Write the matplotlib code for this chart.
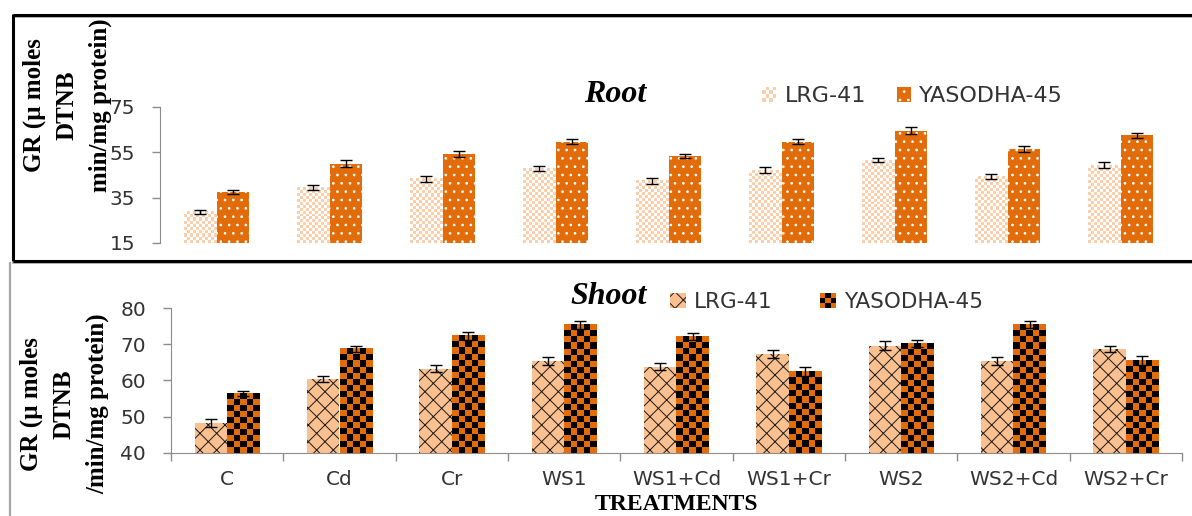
import numpy as np
import matplotlib
matplotlib.use('Agg')
import matplotlib.pyplot as plt
from matplotlib.colors import ListedColormap
from matplotlib.lines import Line2D
from matplotlib.patches import Rectangle
from matplotlib.legend_handler import HandlerBase

# GR activity (µ moles DTNB /min/mg protein) for two varieties
treatments = ['C', 'Cd', 'Cr', 'WS1', 'WS1+Cd', 'WS1+Cr', 'WS2', 'WS2+Cd', 'WS2+Cr']
varieties = ['LRG-41', 'YASODHA-45']

root_lrg = [28.7, 39.6, 43.3, 47.8, 42.5, 47.2, 51.6, 44.3, 49.3]
root_lrg_err = [1.0, 1.2, 1.3, 1.2, 1.3, 1.2, 1.0, 1.2, 1.3]
root_yas = [37.6, 49.9, 54.4, 59.7, 53.4, 59.7, 64.6, 56.5, 62.5]
root_yas_err = [1.0, 1.5, 1.3, 1.0, 1.0, 1.2, 1.6, 1.3, 1.0]

shoot_lrg = [48.3, 60.4, 63.3, 65.5, 63.8, 67.3, 69.6, 65.5, 68.7]
shoot_lrg_err = [1.0, 0.9, 1.0, 1.1, 1.0, 1.0, 1.2, 1.1, 0.8]
shoot_yas = [56.3, 68.7, 72.4, 75.4, 72.1, 62.5, 70.2, 75.4, 65.5]
shoot_yas_err = [0.7, 0.9, 1.1, 1.1, 1.0, 1.2, 0.9, 1.0, 1.2]

W, H = 1192, 516
ORANGE = '#e36c0a'
PEACH = '#fbcfac'
LIGHT_ORANGE = '#fac090'
AXIS_GREY = '#8c8c8c'
TEXT = '#333333'

plt.rcParams['font.family'] = ['DejaVu Sans']
plt.rcParams['hatch.linewidth'] = 0.7

fig = plt.figure(figsize=(W / 100, H / 100), dpi=100)


def fx(px):
    return px / W


def fy(py):
    return 1 - py / H


class CheckerHandler(HandlerBase):
    """legend key drawn as a small checkerboard"""
    def __init__(self, colors, n):
        super().__init__()
        self.colors = colors
        self.n = n

    def create_artists(self, legend, orig_handle, xdescent, ydescent,
                       width, height, fontsize, trans):
        arts = []
        cw, ch = width / self.n, height / self.n
        for i in range(self.n):
            for j in range(self.n):
                arts.append(Rectangle((-xdescent + i * cw, -ydescent + j * ch), cw, ch,
                                      facecolor=self.colors[(i + j) % 2],
                                      edgecolor='none', transform=trans))
        return arts


def checker_fill(ax, bars, cell, colors):
    """fill each bar with a checkerboard image of roughly `cell` pixel squares"""
    cmap = ListedColormap(colors)
    y0 = ax.get_ylim()[0]
    for b in bars:
        x0, x1 = b.get_x(), b.get_x() + b.get_width()
        y1 = b.get_height()
        (p0x, p0y), (p1x, p1y) = ax.transData.transform([(x0, y0), (x1, y1)])
        nx = max(1, round((p1x - p0x) / cell))
        ny = max(1, round((p1y - p0y) / cell))
        grid = np.indices((ny, nx)).sum(axis=0) % 2
        ax.imshow(grid, extent=(x0, x1, y0, y1), origin='lower', cmap=cmap,
                  vmin=0, vmax=1, interpolation='nearest', aspect='auto', zorder=2.2)


def style_y(ax, ylim, yticks):
    ax.set_xlim(-0.5, len(treatments) - 0.5)
    ax.set_ylim(*ylim)
    ax.set_yticks(yticks)
    ax.set_facecolor('none')
    for s in ['top', 'right']:
        ax.spines[s].set_visible(False)
    ax.spines['left'].set_color(AXIS_GREY)
    ax.tick_params(axis='y', colors=AXIS_GREY, labelcolor=TEXT, labelsize=14.5,
                   length=6, width=1, pad=12)


x = np.arange(len(treatments))
bw = 0.29

# ---------------- Root ----------------
ax1 = fig.add_axes([fx(160), fy(243), fx(1177) - fx(160), fy(107) - fy(243)])
style_y(ax1, (15, 75), [15, 35, 55, 75])
ax1.spines['bottom'].set_visible(False)
ax1.set_xticks([])

b_root_lrg = ax1.bar(x - bw / 2, root_lrg, bw, color=PEACH, linewidth=0, zorder=2)
b_root_yas = ax1.bar(x + bw / 2, root_yas, bw, color=ORANGE, edgecolor='white',
                     hatch='..', linewidth=0, zorder=2)
checker_fill(ax1, b_root_lrg, 3, [PEACH, '#ffffff'])
ax1.errorbar(x - bw / 2, root_lrg, yerr=root_lrg_err, fmt='none', ecolor='black',
             elinewidth=1, capsize=4, capthick=1, zorder=4)
ax1.errorbar(x + bw / 2, root_yas, yerr=root_yas_err, fmt='none', ecolor='black',
             elinewidth=1, capsize=4, capthick=1, zorder=4)
ax1.set_xlim(-0.5, len(treatments) - 0.5)
ax1.set_ylim(15, 75)

leg1 = ax1.legend([b_root_lrg, b_root_yas], varieties, loc='center left',
                  bbox_to_anchor=(fx(762), fy(96)), bbox_transform=fig.transFigure,
                  ncol=2, frameon=False, fontsize=16, borderpad=0, borderaxespad=0,
                  handlelength=0.65, handleheight=0.65, handletextpad=0.36,
                  columnspacing=1.4, labelcolor=TEXT,
                  handler_map={b_root_lrg: CheckerHandler([PEACH, '#ffffff'], 4)})

fig.text(fx(615), fy(95), 'Root', family='Liberation Serif', weight='bold',
         style='italic', fontsize=23, ha='center', va='center')
fig.text(fx(67), fy(105), 'GR (µ moles\nDTNB\nmin/mg protein)', rotation=90,
         family='Liberation Serif', weight='bold', fontsize=18, ha='center',
         va='center', multialignment='center', linespacing=1.55)

# ---------------- Shoot ----------------
ax2 = fig.add_axes([fx(171), fy(453), fx(1182) - fx(171), fy(308) - fy(453)])
style_y(ax2, (40, 80), [40, 50, 60, 70, 80])
ax2.spines['bottom'].set_color(AXIS_GREY)
ax2.set_xticks(x)
ax2.set_xticklabels(treatments)
ax2.set_xticks(np.arange(len(treatments) + 1) - 0.5, minor=True)
ax2.tick_params(axis='x', which='major', length=0, labelsize=14.5, labelcolor=TEXT, pad=12.5)
ax2.tick_params(axis='x', which='minor', length=6, width=1, colors=AXIS_GREY)

b_shoot_lrg = ax2.bar(x - bw / 2, shoot_lrg, bw, color=LIGHT_ORANGE, edgecolor='#1a1a1a',
                      hatch='xx', linewidth=0, zorder=2)
b_shoot_yas = ax2.bar(x + bw / 2, shoot_yas, bw, color=ORANGE, linewidth=0, zorder=2)
checker_fill(ax2, b_shoot_yas, 6.2, [ORANGE, '#000000'])
ax2.errorbar(x - bw / 2, shoot_lrg, yerr=shoot_lrg_err, fmt='none', ecolor='black',
             elinewidth=1, capsize=4, capthick=1, zorder=4)
ax2.errorbar(x + bw / 2, shoot_yas, yerr=shoot_yas_err, fmt='none', ecolor='black',
             elinewidth=1, capsize=4, capthick=1, zorder=4)
ax2.set_xlim(-0.5, len(treatments) - 0.5)
ax2.set_ylim(40, 80)

leg2 = ax2.legend([b_shoot_lrg, b_shoot_yas], varieties, loc='center left',
                  bbox_to_anchor=(fx(670), fy(302)), bbox_transform=fig.transFigure,
                  ncol=2, frameon=False, fontsize=15.5, borderpad=0, borderaxespad=0,
                  handlelength=0.75, handleheight=0.7, handletextpad=0.37,
                  columnspacing=2.2, labelcolor=TEXT,
                  handler_map={b_shoot_yas: CheckerHandler([ORANGE, '#000000'], 3)})

fig.text(fx(609), fy(297), 'Shoot', family='Liberation Serif', weight='bold',
         style='italic', fontsize=23, ha='center', va='center')
fig.text(fx(64), fy(404), 'GR (µ moles\nDTNB\n/min/mg protein)', rotation=90,
         family='Liberation Serif', weight='bold', fontsize=18, ha='center',
         va='center', multialignment='center', linespacing=1.55)
fig.text(fx(676), fy(515.5), 'TREATMENTS', family='Liberation Serif', weight='bold',
         fontsize=17, ha='center', va='bottom')

# panel frames
def frame_line(xs, ys, color, lw):
    fig.add_artist(Line2D([fx(v) for v in xs], [fy(v) for v in ys], color=color,
                          linewidth=lw, transform=fig.transFigure, solid_capstyle='butt'))

frame_line([13, W], [16.5, 16.5], '#a6a6a6', 1.2)
frame_line([13, W], [14.5, 14.5], 'black', 2.2)
frame_line([10, 10], [262, H], '#a6a6a6', 1.6)
frame_line([12, W], [262.5, 262.5], '#a6a6a6', 1.2)
frame_line([13, W], [260.5, 260.5], 'black', 2.2)
frame_line([13, 13], [14, 261], 'black', 2.2)

fig.savefig('out.png', dpi=100)
